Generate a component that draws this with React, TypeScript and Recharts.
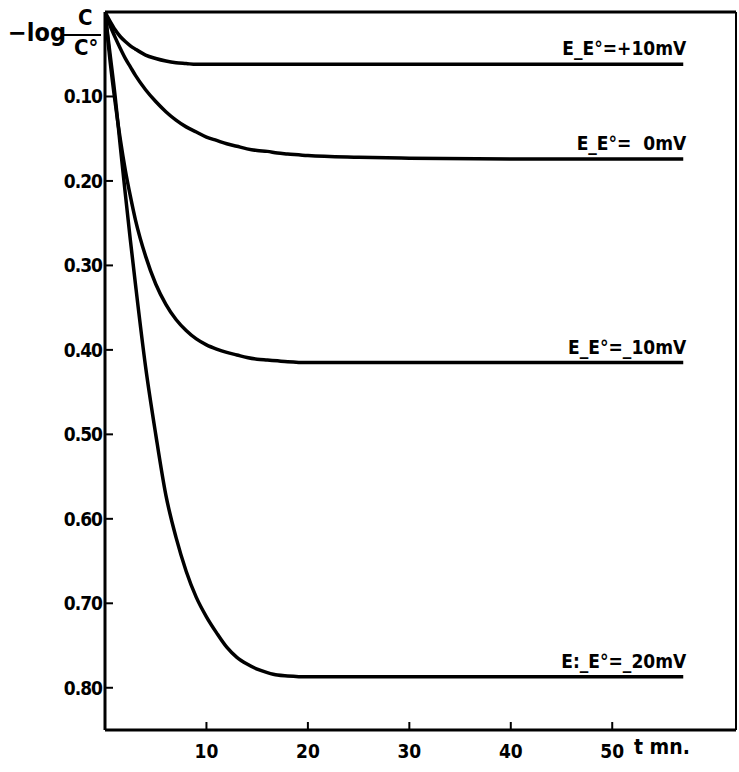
import { LineChart, Line, XAxis, YAxis, ReferenceLine, LabelList } from 'recharts';

// time in minutes
const times = [0, 0.5, 1, 1.5, 2, 2.5, 3, 4, 5, 6, 7, 8, 9, 10, 11, 12, 13, 14, 15, 16, 17, 18, 20, 25, 30, 40, 50, 57];

// -log C/C°
const plus10 = [0, 0.011, 0.021, 0.029, 0.035, 0.04, 0.044, 0.051, 0.055, 0.058, 0.06, 0.061, 0.062, 0.062, 0.062, 0.062, 0.062, 0.062, 0.062, 0.062, 0.062, 0.062, 0.062, 0.062, 0.062, 0.062, 0.062, 0.062];
const zero = [0, 0.016, 0.03, 0.043, 0.055, 0.065, 0.075, 0.092, 0.106, 0.118, 0.128, 0.136, 0.142, 0.148, 0.152, 0.156, 0.159, 0.162, 0.164, 0.165, 0.167, 0.168, 0.17, 0.172, 0.173, 0.174, 0.174, 0.174];
const minus10 = [0, 0.058, 0.107, 0.15, 0.187, 0.218, 0.246, 0.289, 0.322, 0.346, 0.364, 0.377, 0.387, 0.394, 0.399, 0.403, 0.406, 0.409, 0.411, 0.412, 0.413, 0.414, 0.415, 0.415, 0.415, 0.415, 0.415, 0.415];
const minus20 = [0, 0.05, 0.1, 0.158, 0.215, 0.27, 0.322, 0.42, 0.5, 0.572, 0.622, 0.662, 0.693, 0.716, 0.735, 0.752, 0.764, 0.772, 0.778, 0.782, 0.785, 0.786, 0.787, 0.787, 0.787, 0.787, 0.787, 0.787];

const yTicks = [0.1, 0.2, 0.3, 0.4, 0.5, 0.6, 0.7, 0.8];
const xTicks = [10, 20, 30, 40, 50];

const series = [
	{ key: 'plus10', values: plus10, label: 'E_E°=+10mV' },
	{ key: 'zero', values: zero, label: 'E_E°=  0mV' },
	{ key: 'minus10', values: minus10, label: 'E_E°=_10mV' },
	{ key: 'minus20', values: minus20, label: 'E:_E°=_20mV' },
];

const data = times.map((t, i) => {
	const row: any = { t };
	series.forEach((s) => {
		row[s.key] = s.values[i];
	});
	return row;
});

const FONT = "'DejaVu Sans Condensed', 'Liberation Sans Narrow', 'DejaVu Sans', sans-serif";
const INK = '#000';

const YTick = ({ x, y, payload }: any) => (
	<g>
		<line x1={x} y1={y} x2={x + 8} y2={y} stroke={INK} strokeWidth={2} />
		<text
			x={x - 3}
			y={y}
			dy={7}
			textAnchor="end"
			fontFamily={FONT}
			fontStretch="condensed"
			fontWeight="bold"
			fontSize={19}
			letterSpacing={-1}
			fill={INK}
		>
			{payload.value.toFixed(2)}
		</text>
	</g>
);

const XTick = ({ x, y, payload }: any) => (
	<g>
		<line x1={x} y1={y} x2={x} y2={y - 8} stroke={INK} strokeWidth={2} />
		<text
			x={x}
			y={y}
			dy={28}
			textAnchor="middle"
			fontFamily={FONT}
			fontStretch="condensed"
			fontWeight="bold"
			fontSize={19}
			fill={INK}
		>
			{payload.value}
		</text>
	</g>
);

const endLabel = (text: string) => (props: any) => {
	const { x, y, index } = props;
	if (index !== times.length - 1) return null;
	return (
		<text
			x={x + 3}
			y={y - 9}
			textAnchor="end"
			fontFamily={FONT}
			fontStretch="condensed"
			fontWeight="bold"
			fontSize={19}
			fill={INK}
			style={{ whiteSpace: 'pre' }}
		>
			{text}
		</text>
	);
};

export default function App() {
	return (
		<div style={{ position: 'absolute', left: 0, top: 0, width: 739, height: 772, background: '#fff' }}>
			<LineChart width={739} height={772} data={data} margin={{ top: 12, right: 3, bottom: 0, left: 0 }}>
				<XAxis
					dataKey="t"
					type="number"
					domain={[0, 62.2]}
					allowDataOverflow
					ticks={xTicks}
					height={42}
					tickSize={0}
					tickMargin={0}
					tickLine={false}
					axisLine={{ stroke: INK, strokeWidth: 3 }}
					tick={<XTick />}
				/>
				<YAxis
					type="number"
					domain={[0, 0.85]}
					allowDataOverflow
					reversed
					ticks={yTicks}
					width={105}
					tickSize={0}
					tickMargin={0}
					tickLine={false}
					axisLine={{ stroke: INK, strokeWidth: 3 }}
					tick={<YTick />}
				/>
				<ReferenceLine y={0} stroke={INK} strokeWidth={3} ifOverflow="visible" />
				<ReferenceLine x={62.2} stroke={INK} strokeWidth={2} ifOverflow="visible" />
				{series.map((s) => (
					<Line
						key={s.key}
						dataKey={s.key}
						type="monotone"
						stroke={INK}
						strokeWidth={3.5}
						dot={false}
						isAnimationActive={false}
					>
						<LabelList dataKey={s.key} content={endLabel(s.label)} />
					</Line>
				))}
			</LineChart>
			<div
				style={{
					position: 'absolute',
					left: 8,
					top: 8,
					fontFamily: FONT,
					fontStretch: 'condensed',
					fontWeight: 'bold',
					color: INK,
				}}
			>
				<span style={{ position: 'absolute', left: 0, top: 10, fontSize: 25, whiteSpace: 'nowrap' }}>−log</span>
				<span style={{ position: 'absolute', left: 70, top: -3, fontSize: 22 }}>C</span>
				<span style={{ position: 'absolute', left: 54, top: 26, width: 39, height: 2, background: INK }} />
				<span style={{ position: 'absolute', left: 66, top: 27, fontSize: 22, whiteSpace: 'nowrap' }}>C°</span>
			</div>
			<div
				style={{
					position: 'absolute',
					left: 634,
					top: 735,
					fontFamily: FONT,
					fontStretch: 'condensed',
					fontWeight: 'bold',
					fontSize: 21,
					color: INK,
					whiteSpace: 'nowrap',
				}}
			>
				t mn.
			</div>
		</div>
	);
}
